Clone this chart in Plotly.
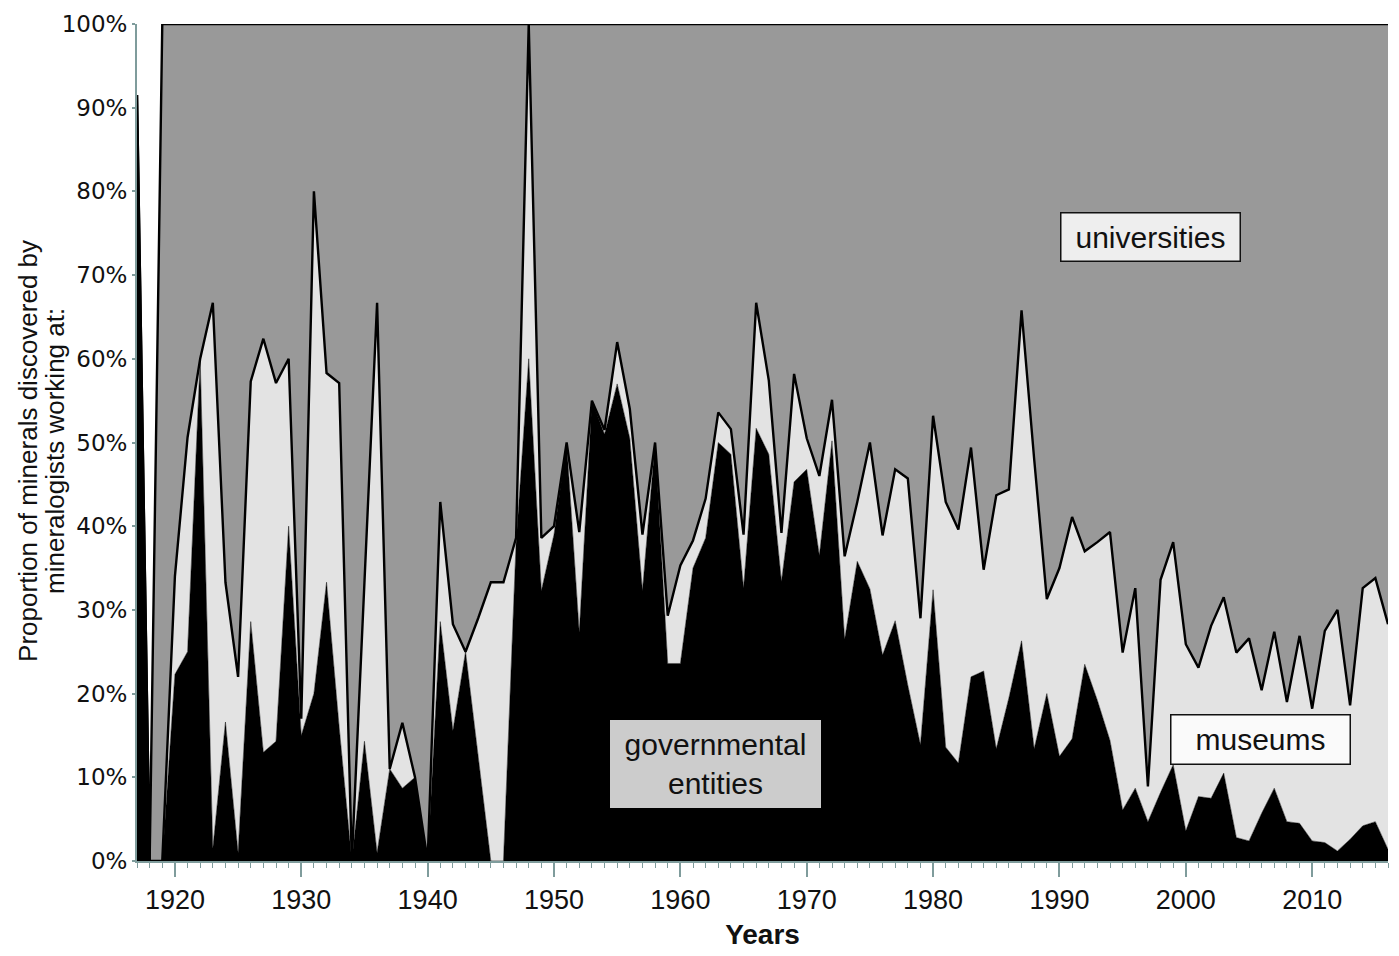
import plotly.graph_objects as go

# Share (%) of new minerals discovered per year, by the employer of the discoverers
years = list(range(1917, 2017))

government = [
    91.5, 0, 0, 22.3, 25.0, 60.0, 1.5, 16.6, 1.0, 28.6,
    13.0, 14.3, 40.0, 15.0, 20.0, 33.3, 16.0, 0, 14.3, 1.0,
    11.0, 8.7, 10.0, 0, 28.6, 15.6, 25.0, 12.5, 0, 0,
    38.0, 60.0, 32.3, 39.0, 50.0, 27.3, 55.0, 51.0, 57.0, 50.5,
    32.3, 50.0, 23.6, 23.6, 35.0, 38.6, 50.0, 48.6, 32.6, 51.7,
    48.6, 33.4, 45.3, 46.8, 36.5, 50.2, 26.5, 35.8, 32.5, 24.6,
    28.7, 21.0, 13.9, 32.4, 13.6, 11.7, 22.0, 22.7, 13.4, 19.5,
    26.3, 13.4, 20.0, 12.5, 14.6, 23.5, 19.2, 14.4, 6.1, 8.7,
    4.7, 8.2, 11.5, 3.6, 7.7, 7.5, 10.5, 2.8, 2.4, 5.7,
    8.7, 4.7, 4.5, 2.4, 2.2, 1.2, 2.6, 4.2, 4.7, 1.4,
]

museums = [
    0, 0, 0, 11.7, 25.6, 0, 65.2, 16.7, 21.0, 28.7,
    49.4, 42.8, 20.0, 2.0, 60.0, 25.0, 41.1, 0, 19.0, 65.7,
    0, 7.8, 0, 0, 14.3, 12.7, 0, 16.5, 33.3, 33.3,
    0.6, 40.0, 6.3, 1.0, 0, 12.0, 0, 0.5, 5.0, 3.5,
    6.7, 0, 5.7, 11.7, 3.3, 4.7, 3.6, 3.0, 6.4, 15.0,
    8.8, 5.8, 12.9, 3.7, 9.5, 4.9, 9.9, 7.1, 17.5, 14.3,
    18.1, 24.7, 15.1, 20.8, 29.3, 27.9, 27.4, 12.1, 30.3, 24.9,
    39.5, 34.6, 11.3, 22.5, 26.5, 13.5, 18.9, 24.9, 18.8, 23.9,
    4.2, 25.4, 26.6, 22.3, 15.4, 20.6, 21.0, 22.1, 24.2, 14.7,
    18.7, 14.3, 22.4, 15.8, 25.3, 28.8, 16.0, 28.4, 29.1, 26.9,
]

universities = [
    0, 0, 100, 66.0, 49.4, 40.0, 33.3, 66.7, 78.0, 42.7,
    37.6, 42.9, 40.0, 83.0, 20.0, 41.7, 42.9, 100, 66.7, 33.3,
    89.0, 83.5, 90.0, 100, 57.1, 71.7, 75.0, 71.0, 66.7, 66.7,
    61.4, 0, 61.4, 60.0, 50.0, 60.7, 45.0, 48.5, 38.0, 46.0,
    61.0, 50.0, 70.7, 64.7, 61.7, 56.7, 46.4, 48.4, 61.0, 33.3,
    42.6, 60.8, 41.8, 49.5, 54.0, 44.9, 63.6, 57.1, 50.0, 61.1,
    53.2, 54.3, 71.0, 46.8, 57.1, 60.4, 50.6, 65.2, 56.3, 55.6,
    34.2, 52.0, 68.7, 65.0, 58.9, 63.0, 61.9, 60.7, 75.1, 67.4,
    91.1, 66.4, 61.9, 74.1, 76.9, 71.9, 68.5, 75.1, 73.4, 79.6,
    72.6, 81.0, 73.1, 81.8, 72.5, 70.0, 81.4, 67.4, 66.2, 71.7,
]

year_ticks = list(range(1920, 2011, 10))
pct_ticks = list(range(0, 101, 10))
pct_labels = [f"{p}%" for p in pct_ticks]

AXIS_GREY = "#7f9c9c"
TEXT = "#111111"

fig = go.Figure()
fig.add_trace(go.Scatter(
    x=years, y=government, name="governmental entities", stackgroup="one",
    mode="lines", line=dict(color="#000000", width=0.5), fillcolor="#000000",
))
fig.add_trace(go.Scatter(
    x=years, y=museums, name="museums", stackgroup="one",
    mode="lines", line=dict(color="#000000", width=2.4), fillcolor="#e3e3e3",
))
fig.add_trace(go.Scatter(
    x=years, y=universities, name="universities", stackgroup="one",
    mode="lines", line=dict(color="#000000", width=2.4), fillcolor="#999999",
))

# Category labels drawn as boxed text inside the areas
box_font = dict(family="Liberation Sans, Arial, sans-serif", size=30, color=TEXT)
fig.add_annotation(x=1997.2, y=74.6, xref="x", yref="y", text="universities",
                   showarrow=False, font=box_font, bgcolor="#eeeeee",
                   bordercolor="#111111", borderwidth=1.5, width=176, height=45)
fig.add_annotation(x=1962.8, y=11.6, xref="x", yref="y", text="governmental<br>entities",
                   showarrow=False, font=box_font, bgcolor="#cccccc",
                   borderwidth=0, width=209, height=86)
fig.add_annotation(x=2005.9, y=14.5, xref="x", yref="y", text="museums",
                   showarrow=False, font=box_font, bgcolor="#fafafa",
                   bordercolor="#111111", borderwidth=1.5, width=176, height=46)

# Two-line y-axis title
title_font = dict(family="Liberation Sans, Arial, sans-serif", size=26, color=TEXT)
fig.add_annotation(x=-0.0871, y=0.49, xref="paper", yref="paper",
                   xanchor="center", yanchor="middle",
                   text="Proportion of minerals discovered by", textangle=-90,
                   showarrow=False, font=title_font)
fig.add_annotation(x=-0.0655, y=0.49, xref="paper", yref="paper",
                   xanchor="center", yanchor="middle",
                   text="mineralogists working at:", textangle=-90,
                   showarrow=False, font=title_font)

fig.update_layout(
    width=1399, height=956,
    margin=dict(l=137, r=11, t=22, b=91),
    paper_bgcolor="white", plot_bgcolor="white",
    showlegend=False,
    xaxis=dict(
        range=[1917, 2016], tickvals=year_ticks, ticktext=[str(y) for y in year_ticks],
        ticks="outside", ticklen=14, tickwidth=1.5, tickcolor=AXIS_GREY,
        minor=dict(dtick=1, ticks="outside", ticklen=5, tickcolor=AXIS_GREY, tickwidth=1),
        showline=True, linecolor=AXIS_GREY, linewidth=1.5,
        showgrid=False, zeroline=False,
        tickfont=dict(family="Liberation Sans Narrow, Arial Narrow, Liberation Sans, sans-serif",
                      size=27, color=TEXT),
        title=dict(text="<b>Years</b>", standoff=10,
                   font=dict(family="Liberation Sans, Arial, sans-serif", size=28, color=TEXT)),
    ),
    yaxis=dict(
        range=[0, 100], tickvals=pct_ticks, ticktext=pct_labels,
        ticks="outside", ticklen=3, tickwidth=1.5, tickcolor=AXIS_GREY,
        showline=True, linecolor=AXIS_GREY, linewidth=2,
        showgrid=False, zeroline=False,
        tickfont=dict(family="DejaVu Sans, sans-serif", size=23, color=TEXT),
    ),
)

fig.write_html("out.html")
